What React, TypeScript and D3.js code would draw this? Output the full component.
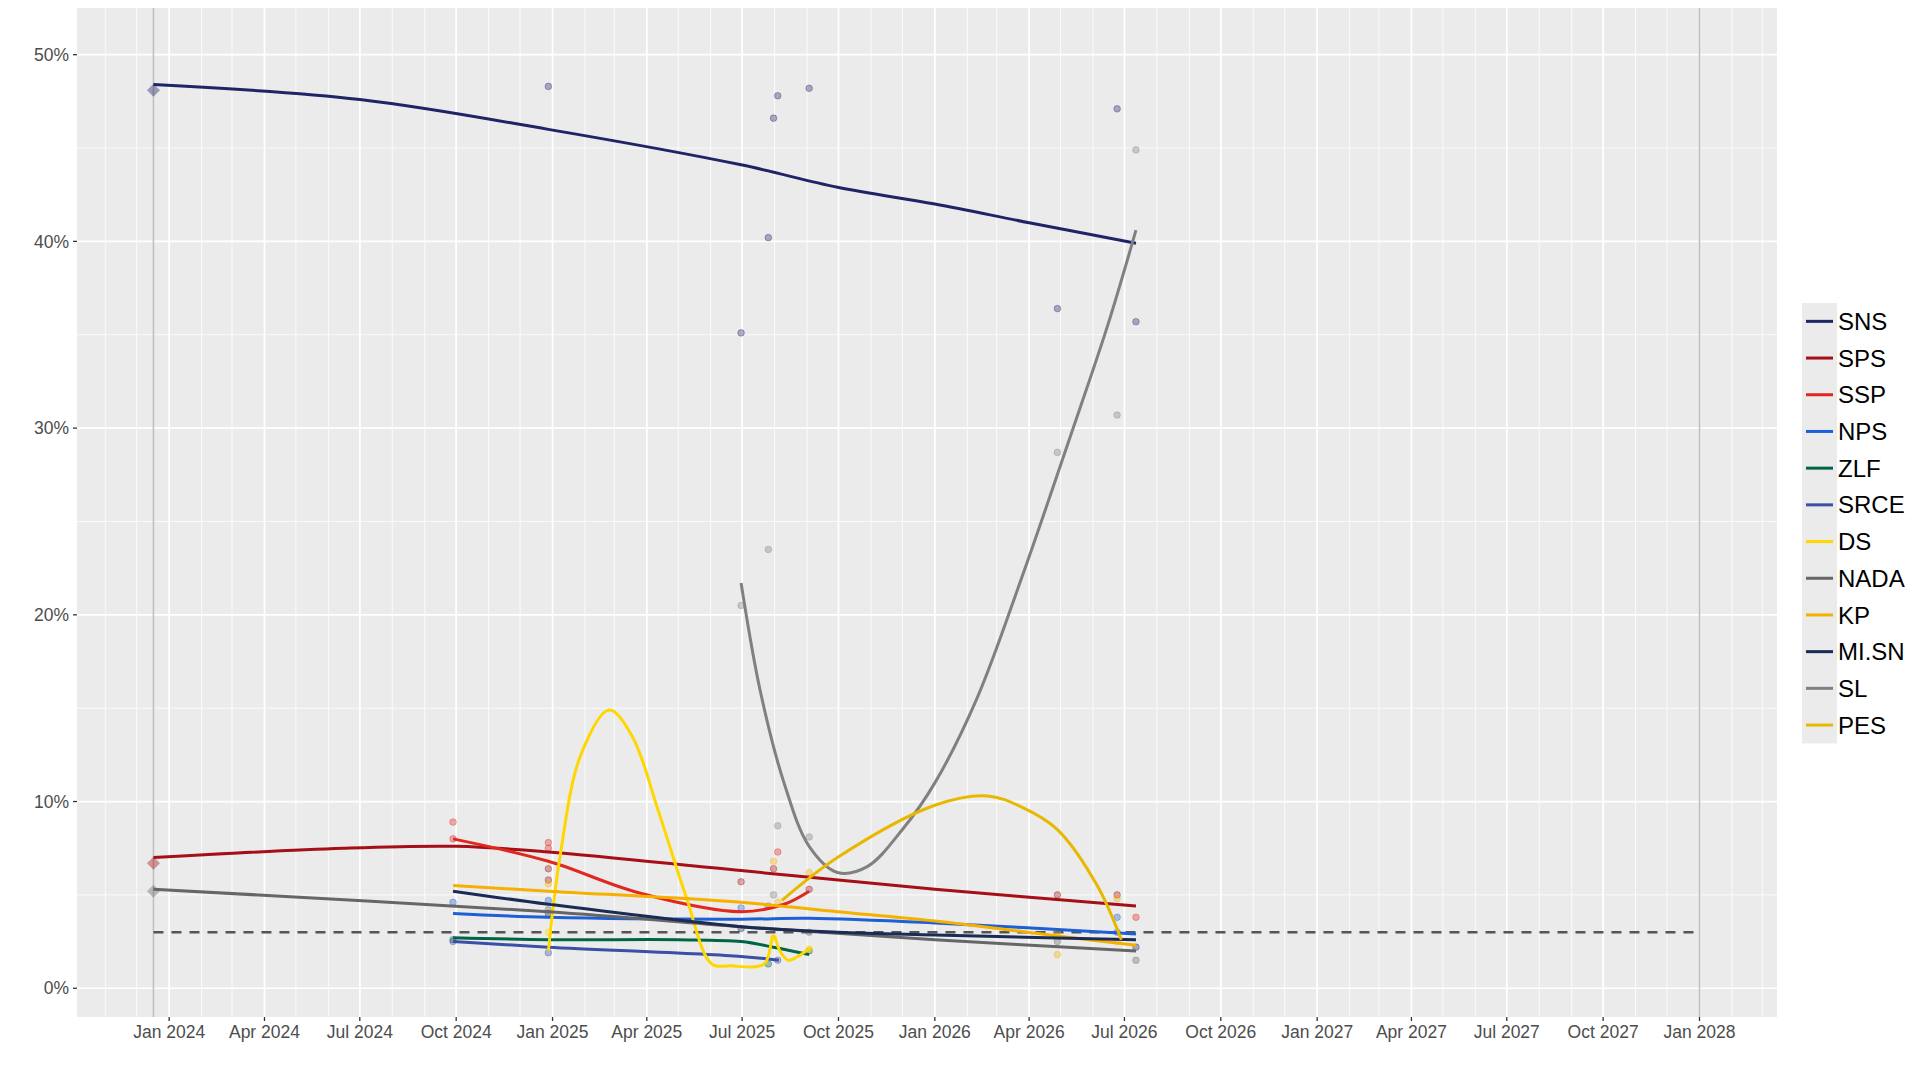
import * as d3 from 'd3';

type Pt = [string, number];

const parties = ['SNS', 'SPS', 'SSP', 'NPS', 'ZLF', 'SRCE', 'DS', 'NADA', 'KP', 'MI.SN', 'SL', 'PES'];
const colors = ['#1f2466', '#a50f15', '#e0281e', '#1f5fd6', '#006446', '#3a4fa5', '#ffd700', '#666666', '#f5b000', '#1a2b55', '#808080', '#e8b800'];

// smoothed trend lines
const trends: Record<string, Pt[]> = {
  SNS: [['2023-12-17', 48.4], ['2024-07-01', 47.6], ['2024-12-28', 46.0], ['2025-06-30', 44.1], ['2025-09-30', 42.9], ['2026-01-01', 42.0], ['2026-04-01', 41.0], ['2026-07-12', 39.9]],
  SPS: [['2023-12-17', 7.0], ['2024-06-15', 7.5], ['2024-10-01', 7.6], ['2024-12-28', 7.3], ['2025-06-30', 6.3], ['2026-01-01', 5.3], ['2026-07-12', 4.4]],
  SSP: [['2024-09-28', 8.0], ['2024-12-28', 6.8], ['2025-03-25', 5.1], ['2025-06-30', 4.1], ['2025-08-10', 4.5], ['2025-09-03', 5.2]],
  NPS: [['2024-09-28', 4.0], ['2024-12-28', 3.8], ['2025-06-30', 3.7], ['2025-09-03', 3.75], ['2026-01-01', 3.5], ['2026-07-12', 2.9]],
  ZLF: [['2024-09-28', 2.7], ['2024-12-28', 2.6], ['2025-05-01', 2.6], ['2025-06-30', 2.5], ['2025-07-31', 2.2], ['2025-09-03', 1.8]],
  SRCE: [['2024-09-28', 2.5], ['2024-12-28', 2.2], ['2025-06-30', 1.7], ['2025-08-05', 1.5]],
  DS: [['2024-12-28', 2.0], ['2025-01-08', 7.0], ['2025-01-28', 12.5], ['2025-02-24', 14.9], ['2025-03-18', 13.5], ['2025-04-12', 9.5], ['2025-05-08', 5.0], ['2025-06-02', 1.3], ['2025-06-20', 1.2], ['2025-07-22', 1.3], ['2025-07-31', 2.8], ['2025-08-06', 2.0], ['2025-08-14', 1.5], ['2025-08-26', 1.8], ['2025-09-05', 2.2]],
  NADA: [['2023-12-17', 5.3], ['2024-12-28', 4.1], ['2025-06-30', 3.3], ['2026-01-01', 2.6], ['2026-07-12', 2.0]],
  KP: [['2024-09-28', 5.5], ['2024-12-28', 5.2], ['2025-06-30', 4.6], ['2025-09-30', 4.1], ['2026-01-01', 3.6], ['2026-04-28', 2.8], ['2026-07-12', 2.3]],
  'MI.SN': [['2024-09-28', 5.2], ['2024-12-28', 4.5], ['2025-06-30', 3.3], ['2025-09-30', 3.0], ['2026-01-01', 2.85], ['2026-07-12', 2.6]],
  SL: [['2025-06-30', 21.7], ['2025-07-18', 16.0], ['2025-08-10', 11.0], ['2025-09-03', 7.6], ['2025-09-30', 6.2], ['2025-10-28', 6.5], ['2025-12-01', 8.5], ['2026-01-01', 11.0], ['2026-02-10', 15.5], ['2026-03-25', 22.0], ['2026-05-10', 29.5], ['2026-06-15', 35.5], ['2026-07-12', 40.6]],
  PES: [['2025-08-08', 4.7], ['2025-09-30', 7.0], ['2026-01-01', 9.8], ['2026-02-20', 10.3], ['2026-03-25', 9.7], ['2026-04-28', 8.5], ['2026-06-05', 5.5], ['2026-06-28', 2.6]],
};

// individual polls
const polls: [string, number, string][] = [
  ['2024-12-28', 48.3, 'SNS'], ['2025-07-26', 40.2, 'SNS'], ['2025-07-31', 46.6, 'SNS'], ['2025-08-04', 47.8, 'SNS'],
  ['2025-09-03', 48.2, 'SNS'], ['2026-06-24', 47.1, 'SNS'], ['2026-04-28', 36.4, 'SNS'], ['2026-07-12', 35.7, 'SNS'], ['2025-06-30', 35.1, 'SNS'],
  ['2026-07-12', 44.9, 'SL'], ['2026-06-24', 30.7, 'SL'], ['2026-04-28', 28.7, 'SL'], ['2025-07-26', 23.5, 'SL'], ['2025-06-30', 20.5, 'SL'],
  ['2025-08-04', 8.7, 'SL'], ['2025-09-03', 8.1, 'SL'], ['2025-07-31', 5.0, 'SL'],
  ['2024-09-28', 8.9, 'SSP'], ['2024-09-28', 8.0, 'SSP'], ['2024-12-28', 7.8, 'SSP'], ['2024-12-28', 7.5, 'SSP'], ['2024-12-28', 6.4, 'SPS'],
  ['2024-12-28', 5.8, 'SPS'], ['2025-06-30', 5.7, 'SPS'], ['2025-08-04', 7.3, 'SSP'], ['2025-07-31', 6.4, 'SPS'], ['2025-09-03', 5.3, 'SPS'],
  ['2026-04-28', 5.0, 'SPS'], ['2026-06-24', 5.0, 'SPS'], ['2026-07-12', 3.8, 'SSP'],
  ['2024-09-28', 4.6, 'NPS'], ['2024-12-28', 4.7, 'NPS'], ['2026-06-24', 3.8, 'NPS'], ['2025-06-30', 4.3, 'NPS'], ['2026-06-24', 3.0, 'NPS'],
  ['2024-09-28', 2.6, 'ZLF'], ['2025-07-26', 1.3, 'ZLF'], ['2025-09-03', 2.0, 'ZLF'],
  ['2024-12-28', 1.9, 'SRCE'], ['2025-08-04', 1.5, 'SRCE'], ['2024-09-28', 2.5, 'SRCE'],
  ['2024-12-28', 3.0, 'DS'], ['2025-07-31', 2.7, 'DS'], ['2025-09-03', 2.1, 'DS'],
  ['2024-12-28', 4.2, 'NADA'], ['2025-07-26', 4.4, 'NADA'], ['2026-04-28', 2.5, 'NADA'], ['2026-07-12', 1.5, 'NADA'], ['2025-09-03', 3.0, 'NADA'],
  ['2024-12-28', 5.6, 'KP'], ['2025-08-04', 4.6, 'KP'], ['2025-09-03', 6.2, 'KP'], ['2026-04-28', 1.8, 'KP'], ['2026-06-24', 4.8, 'KP'], ['2025-07-31', 6.8, 'KP'],
  ['2024-12-28', 4.0, 'MI.SN'], ['2025-06-30', 3.2, 'MI.SN'], ['2026-07-12', 2.2, 'MI.SN'],
  ['2026-04-28', 3.0, 'PES'], ['2026-06-24', 2.5, 'PES'],
];

// last election result
const election: [string, number, string][] = [['2023-12-17', 48.1, 'SNS'], ['2023-12-17', 6.7, 'SPS'], ['2023-12-17', 5.2, 'NADA']];

const electionDates = ['2023-12-17', '2028-01-01'];
const threshold = 3;
const yTicks = [0, 10, 20, 30, 40, 50];

const W = 1920, H = 1067;
const M = { left: 77, right: 1777, top: 8, bottom: 1017 };

export default function App() {
  const p = d3.timeParse('%Y-%m-%d');
  const d = (s: string) => p(s) as Date;
  const x = d3.scaleTime().domain([d('2023-10-05'), d('2028-03-15')]).range([M.left, M.right]);
  const y = d3.scaleLinear().domain([-1.54, 52.5]).range([M.bottom, M.top]);
  const col = d3.scaleOrdinal<string, string>().domain(parties).range(colors);
  const majors = x.ticks(d3.timeMonth.every(3)!);
  const minors = x.ticks(d3.timeMonth.every(1)!);
  const yMinor = d3.range(5, 55, 10);
  const fmt = d3.timeFormat('%b %Y');
  const line = d3.line<Pt>().x(v => x(d(v[0]))).y(v => y(v[1])).curve(d3.curveCatmullRom.alpha(0.5));
  const font = 'Liberation Sans, Arial, sans-serif';
  const row = 36.7;

  return (
    <svg width={W} height={H} style={{ position: 'absolute', left: 0, top: 0, fontFamily: font }}>
      <rect width={W} height={H} fill="#fff" />
      <rect x={M.left} y={M.top} width={M.right - M.left} height={M.bottom - M.top} fill="#ebebeb" />
      {minors.map((t, i) => <line key={'mx' + i} x1={x(t)} x2={x(t)} y1={M.top} y2={M.bottom} stroke="#fff" strokeWidth={0.8} />)}
      {yMinor.map(v => <line key={'my' + v} x1={M.left} x2={M.right} y1={y(v)} y2={y(v)} stroke="#fff" strokeWidth={0.8} />)}
      {majors.map((t, i) => <line key={'Mx' + i} x1={x(t)} x2={x(t)} y1={M.top} y2={M.bottom} stroke="#fff" strokeWidth={1.7} />)}
      {yTicks.map(v => <line key={'My' + v} x1={M.left} x2={M.right} y1={y(v)} y2={y(v)} stroke="#fff" strokeWidth={1.7} />)}
      {electionDates.map(s => <line key={s} x1={x(d(s))} x2={x(d(s))} y1={M.top} y2={M.bottom} stroke="#bdbdbd" strokeWidth={1.5} />)}
      <line x1={x(d(electionDates[0]))} x2={x(d(electionDates[1]))} y1={y(threshold)} y2={y(threshold)} stroke="#555" strokeWidth={2.4} strokeDasharray="10,8" />
      {polls.map((q, i) => (
        <circle key={'p' + i} cx={x(d(q[0]))} cy={y(q[1])} r={3.3} fill={col(q[2])} fillOpacity={0.35} stroke={col(q[2])} strokeOpacity={0.35} />
      ))}
      {election.map((q, i) => {
        const cx = x(d(q[0])), cy = y(q[1]);
        return <path key={'e' + i} d={`M${cx},${cy - 6.5}L${cx + 6.5},${cy}L${cx},${cy + 6.5}L${cx - 6.5},${cy}Z`} fill={col(q[2])} fillOpacity={0.4} />;
      })}
      {parties.map(k => (
        <path key={k} d={line(trends[k]) ?? ''} fill="none" stroke={col(k)} strokeWidth={3} />
      ))}
      {yTicks.map(v => (
        <g key={'yt' + v}>
          <line x1={M.left - 4} x2={M.left} y1={y(v)} y2={y(v)} stroke="#333" strokeWidth={1.3} />
          <text x={M.left - 8} y={y(v)} dy="0.35em" textAnchor="end" fontSize={17.5} fill="#4d4d4d">{v}%</text>
        </g>
      ))}
      {majors.map((t, i) => (
        <g key={'xt' + i}>
          <line x1={x(t)} x2={x(t)} y1={M.bottom} y2={M.bottom + 4} stroke="#333" strokeWidth={1.3} />
          <text x={x(t)} y={M.bottom + 21} textAnchor="middle" fontSize={17.5} fill="#4d4d4d">{fmt(t)}</text>
        </g>
      ))}
      <g transform="translate(1802,303)">
        <rect width={35} height={parties.length * row} fill="#ebebeb" />
        {parties.map((k, i) => (
          <g key={'lg' + k} transform={`translate(0,${i * row + row / 2})`}>
            <line x1={4} x2={31} y1={0} y2={0} stroke={col(k)} strokeWidth={3} />
            <text x={36} y={0} dy="0.36em" fontSize={24} fill="#000">{k}</text>
          </g>
        ))}
      </g>
    </svg>
  );
}
